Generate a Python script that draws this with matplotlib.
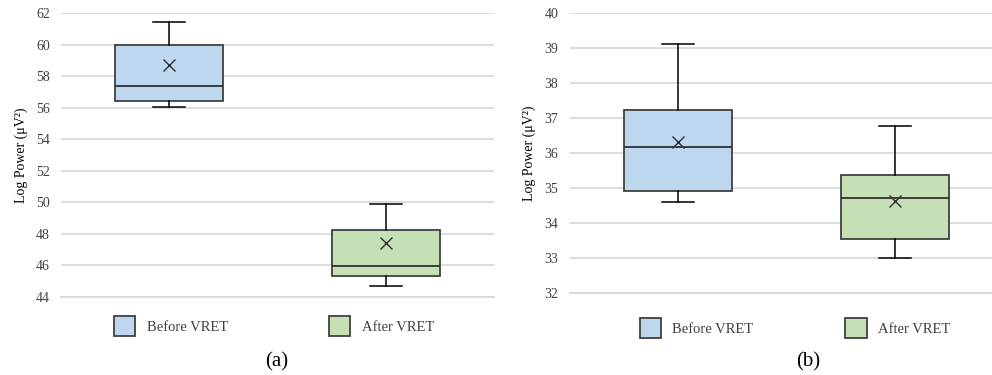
import matplotlib.pyplot as plt
from matplotlib.patches import Patch

plt.rcParams['font.family'] = ['Liberation Serif', 'DejaVu Serif']

groups = ['Before VRET', 'After VRET']
colors = ['#bdd7ee', '#c5e0b4']

# panel (a): whisker low, Q1, median, Q3, whisker high, mean
a_low = [56.05, 44.72]
a_q1 = [56.4, 45.3]
a_med = [57.38, 45.99]
a_q3 = [59.95, 48.27]
a_high = [61.45, 49.9]
a_mean = [58.7, 47.4]

# panel (b)
b_low = [34.6, 33.0]
b_q1 = [34.91, 33.54]
b_med = [36.17, 34.71]
b_q3 = [37.23, 35.37]
b_high = [39.11, 36.77]
b_mean = [36.31, 34.63]


def make_stats(low, q1, med, q3, high, mean):
    out = []
    for i in range(len(low)):
        out.append(dict(whislo=low[i], q1=q1[i], med=med[i], q3=q3[i],
                        whishi=high[i], mean=mean[i], fliers=[]))
    return out


def draw(ax, stats, ylim, step, xlim, leg_xy, colsp):
    bp = ax.bxp(stats, positions=[0, 1], widths=0.5, patch_artist=True,
                showmeans=True, showfliers=False,
                boxprops=dict(edgecolor='#404040', linewidth=1.3),
                medianprops=dict(color='#303030', linewidth=1.3),
                whiskerprops=dict(color='#000000', linewidth=1.1),
                capprops=dict(color='#000000', linewidth=1.1),
                meanprops=dict(marker='x', markeredgecolor='#303030',
                               markersize=8, markeredgewidth=1.0))
    for b, c in zip(bp['boxes'], colors):
        b.set_facecolor(c)
    for cap in bp['caps']:
        xd = cap.get_xdata()
        mid = (xd[0] + xd[1]) / 2
        cap.set_xdata([mid - 0.075, mid + 0.075])
    ax.set_ylim(*ylim)
    ax.set_xlim(*xlim)
    ax.set_yticks(range(ylim[0], ylim[1] + 1, step))
    ax.grid(axis='y', color='#d9d9d9', linewidth=1.3)
    ax.set_axisbelow(True)
    for s in ['top', 'right', 'left']:
        ax.spines[s].set_visible(False)
    ax.spines['bottom'].set_color('#d9d9d9')
    ax.spines['bottom'].set_linewidth(1.3)
    ax.set_xticks([])
    ax.tick_params(axis='y', length=0, labelsize=10, pad=8, labelcolor='#404040')
    ax.set_ylabel('Log Power (\u03bcV\u00b2)', fontsize=10, labelpad=6)
    handles = [Patch(facecolor=colors[i], edgecolor='#404040', linewidth=1.3, label=groups[i])
               for i in range(2)]
    ax.legend(handles=handles, ncol=2, loc='center',
              bbox_to_anchor=(leg_xy[0] / 992, 1 - leg_xy[1] / 375),
              bbox_transform=fig.transFigure,
              frameon=False, fontsize=10.5, handlelength=1.45, handleheight=1.8,
              columnspacing=colsp, handletextpad=0.8, labelcolor='#404040')


fig = plt.figure(figsize=(9.92, 3.75), dpi=100)
ax1 = fig.add_axes([61 / 992, 78 / 375, 433 / 992, 284 / 375])
ax2 = fig.add_axes([569.5 / 992, 82 / 375, 422.5 / 992, 280 / 375])

draw(ax1, make_stats(a_low, a_q1, a_med, a_q3, a_high, a_mean), (44, 62), 2, (-0.5, 1.5),
     (274, 326), 6.9)
draw(ax2, make_stats(b_low, b_q1, b_med, b_q3, b_high, b_mean), (32, 40), 1, (-0.5, 1.447),
     (795, 328), 6.3)

fig.text(277 / 992, 13 / 375, '(a)', ha='center', va='center', fontsize=15)
fig.text(808 / 992, 13 / 375, '(b)', ha='center', va='center', fontsize=15)

fig.savefig('out.png', dpi=100)
